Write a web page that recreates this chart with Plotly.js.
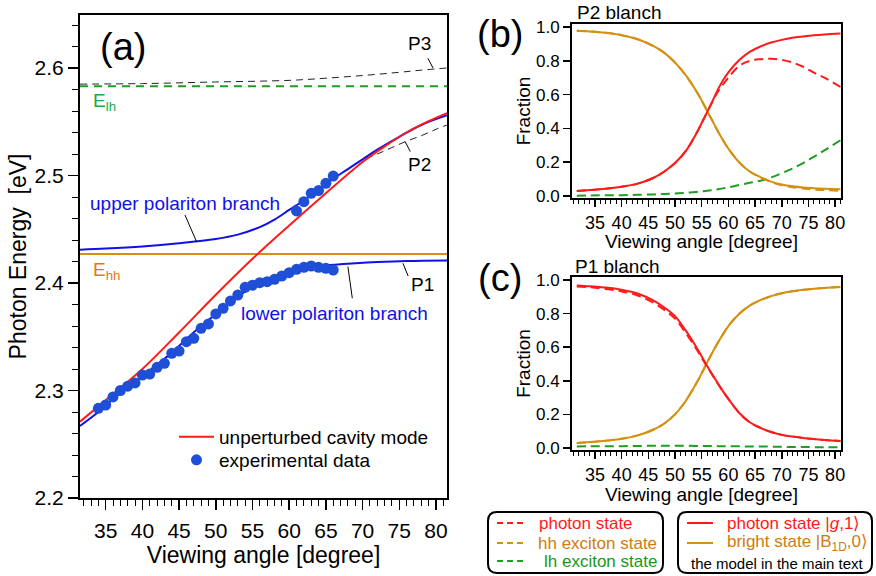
<!DOCTYPE html>
<html>
<head>
<meta charset="utf-8">
<script src="https://cdn.plot.ly/plotly-3.0.1.min.js"></script>
<style>html,body{margin:0;padding:0;background:#fff;}#chart{width:876px;height:576px;}</style>
</head>
<body>
<div id="chart"></div>
<script>
// ---------- Panel (a) data ----------
const angCavity = [31.5, 35, 40, 45, 50, 55, 60, 65, 70, 73, 76, 79, 81.5];
const cavityE   = [2.271, 2.291, 2.320, 2.354, 2.389, 2.4225, 2.4535, 2.4835, 2.5125, 2.527, 2.540, 2.5505, 2.558];

const angUpper = [31.5, 35, 40, 45, 50, 53, 56, 58, 60, 62, 64, 66, 68, 70, 72, 75, 78, 81.5];
const upperE   = [2.431, 2.432, 2.434, 2.437, 2.441, 2.445, 2.452, 2.459, 2.468, 2.477, 2.487, 2.497, 2.506, 2.515, 2.524, 2.536, 2.547, 2.556];

const angLower = [31.5, 34, 36, 38, 40, 42, 44, 46, 48, 50, 52, 54, 56, 58, 60, 62, 64, 66, 68, 72, 76, 81.5];
const lowerE   = [2.267, 2.280, 2.292, 2.303, 2.313, 2.324, 2.335, 2.348, 2.360, 2.371, 2.382, 2.392, 2.400, 2.406, 2.410, 2.414, 2.416, 2.417, 2.418, 2.4195, 2.4205, 2.421];

const angP3 = [31.5, 40, 50, 60, 65, 70, 75, 78, 81.5];
const P3E   = [2.585, 2.5855, 2.587, 2.5885, 2.5905, 2.593, 2.596, 2.598, 2.600];

const angP2 = [69, 70, 72, 74, 76, 78, 80, 81.5];
const P2E   = [2.5105, 2.5145, 2.520, 2.526, 2.532, 2.537, 2.543, 2.547];

const angRangeA = [31.5, 81.5];
const E_hh = 2.427;
const E_lh = 2.583;

const expAngLower = [34,35,36,37,38,39,40,41,42,43,44,45,46,47,48,49,50,51,52,53,54,55,56,57,58,59,60,61,62,63,64,65,66];
const expELower   = [2.2834,2.2865,2.294,2.300,2.304,2.307,2.3144,2.3153,2.3216,2.3253,2.3346,2.3367,2.3454,2.3485,2.3578,2.3619,2.3712,2.3765,2.3833,2.3888,2.396,2.398,2.4003,2.4012,2.4034,2.4065,2.4096,2.4127,2.4146,2.4158,2.4146,2.4137,2.4121];
const expAngUpper = [61, 62, 63, 64, 65, 66];
const expEUpper   = [2.467, 2.4756, 2.4834, 2.486, 2.4927, 2.4995];

// ---------- Panels (b) and (c) data ----------
const angFrac = [31.6, 34, 37, 40, 43, 46, 48, 50, 52, 54, 55, 56, 57, 58, 59, 60, 62, 64, 66, 68, 70, 72, 74, 76, 78, 81];

// (b) P2 branch
const p2Bright   = [0.978,0.974,0.966,0.952,0.928,0.887,0.847,0.790,0.715,0.620,0.565,0.505,0.445,0.385,0.330,0.280,0.200,0.145,0.112,0.085,0.068,0.057,0.050,0.046,0.043,0.040];
const p2Photon   = [0.030,0.035,0.043,0.055,0.073,0.108,0.145,0.195,0.265,0.370,0.432,0.495,0.560,0.628,0.685,0.732,0.803,0.853,0.885,0.908,0.924,0.936,0.944,0.951,0.956,0.962];
const p2PhotonFull = [0.030,0.035,0.043,0.055,0.073,0.108,0.145,0.195,0.265,0.370,0.432,0.495,0.558,0.615,0.660,0.700,0.770,0.800,0.810,0.812,0.806,0.790,0.765,0.730,0.700,0.645];
const p2HH       = [0.978,0.974,0.966,0.952,0.928,0.887,0.847,0.790,0.715,0.620,0.565,0.505,0.445,0.385,0.330,0.280,0.200,0.145,0.110,0.083,0.064,0.052,0.044,0.038,0.035,0.031];
const p2LH       = [0.002,0.003,0.004,0.005,0.007,0.009,0.012,0.015,0.018,0.024,0.027,0.031,0.035,0.040,0.045,0.051,0.065,0.078,0.090,0.110,0.135,0.162,0.195,0.232,0.270,0.330];

// (c) P1 branch
const p1Photon   = [0.968,0.963,0.955,0.942,0.920,0.877,0.836,0.785,0.700,0.600,0.545,0.490,0.437,0.386,0.337,0.292,0.210,0.153,0.120,0.095,0.078,0.068,0.060,0.053,0.048,0.042];
const p1Bright   = [0.030,0.035,0.043,0.055,0.075,0.110,0.146,0.200,0.280,0.385,0.445,0.508,0.568,0.625,0.678,0.726,0.798,0.848,0.880,0.904,0.921,0.933,0.942,0.948,0.953,0.958];
const p1PhotonFull = [0.962,0.957,0.947,0.932,0.908,0.864,0.822,0.770,0.685,0.590,0.537,0.485,0.434,0.384,0.336,0.292,0.210,0.153,0.120,0.095,0.078,0.068,0.060,0.053,0.048,0.042];
const p1HH       = [0.030,0.035,0.043,0.055,0.075,0.110,0.146,0.200,0.280,0.385,0.445,0.508,0.568,0.625,0.678,0.726,0.798,0.848,0.880,0.904,0.921,0.933,0.942,0.948,0.953,0.958];
const p1LH       = [0.009,0.010,0.011,0.011,0.012,0.013,0.013,0.013,0.013,0.012,0.012,0.012,0.012,0.011,0.011,0.011,0.010,0.009,0.009,0.008,0.007,0.006,0.006,0.005,0.005,0.004];

// ---------- styling ----------
const FONT = 'Liberation Sans, Arial, Helvetica, sans-serif';
const RED = '#ff1a1a', BLUE = '#1010e8', DOT = '#1e4fd6', ORANGE = '#d4900f', GREEN = '#1f9f1f';
const ORANGE_TXT = '#e07a10', GREEN_TXT = '#1aaa4a';
const W = 876, H = 576;
const px = x => x / W, py = y => 1 - y / H;

const traces = [];
// panel a
traces.push({x: angP3, y: P3E, mode: 'lines', line: {color: '#222', width: 1, dash: '7px,5px', shape: 'spline'}, showlegend: false, xaxis: 'x', yaxis: 'y'});
traces.push({x: angP2, y: P2E, mode: 'lines', line: {color: '#222', width: 1, dash: '7px,5px', shape: 'spline'}, showlegend: false, xaxis: 'x', yaxis: 'y'});
traces.push({x: angRangeA, y: angRangeA.map(() => E_lh), mode: 'lines', line: {color: GREEN, width: 2, dash: '8px,6px'}, showlegend: false, xaxis: 'x', yaxis: 'y'});
traces.push({x: angRangeA, y: angRangeA.map(() => E_hh), mode: 'lines', line: {color: ORANGE, width: 2}, showlegend: false, xaxis: 'x', yaxis: 'y'});
traces.push({x: angUpper, y: upperE, mode: 'lines', line: {color: BLUE, width: 2, shape: 'spline'}, showlegend: false, xaxis: 'x', yaxis: 'y'});
traces.push({x: angLower, y: lowerE, mode: 'lines', line: {color: BLUE, width: 2, shape: 'spline'}, showlegend: false, xaxis: 'x', yaxis: 'y'});
traces.push({x: angCavity, y: cavityE, mode: 'lines', name: 'unperturbed cavity mode', legend: 'legend', line: {color: RED, width: 2, shape: 'spline'}, showlegend: true, xaxis: 'x', yaxis: 'y'});
traces.push({x: expAngLower, y: expELower, mode: 'markers', name: 'experimental data', legend: 'legend2', legendgroup: 'exp', marker: {color: DOT, size: 11}, showlegend: true, xaxis: 'x', yaxis: 'y'});
traces.push({x: expAngUpper, y: expEUpper, mode: 'markers', legend: 'legend2', legendgroup: 'exp', marker: {color: DOT, size: 11}, showlegend: false, xaxis: 'x', yaxis: 'y'});

// panels b, c
const DASH = '9px,5px';
function fracTraces(ax, ay, photonFull, hh, lh, photon, bright) {
  return [
    {x: angFrac, y: lh, mode: 'lines', line: {color: GREEN, width: 2, dash: DASH, shape: 'spline'}, showlegend: false, xaxis: ax, yaxis: ay},
    {x: angFrac, y: bright, mode: 'lines', line: {color: ORANGE, width: 2, shape: 'spline'}, showlegend: false, xaxis: ax, yaxis: ay},
    {x: angFrac, y: hh, mode: 'lines', line: {color: ORANGE, width: 2, dash: DASH, shape: 'spline'}, showlegend: false, xaxis: ax, yaxis: ay},
    {x: angFrac, y: photon, mode: 'lines', line: {color: RED, width: 2, shape: 'spline'}, showlegend: false, xaxis: ax, yaxis: ay},
    {x: angFrac, y: photonFull, mode: 'lines', line: {color: RED, width: 2, dash: DASH, shape: 'spline'}, showlegend: false, xaxis: ax, yaxis: ay}
  ];
}
traces.push(...fracTraces('x2', 'y2', p2PhotonFull, p2HH, p2LH, p2Photon, p2Bright));
traces.push(...fracTraces('x3', 'y3', p1PhotonFull, p1HH, p1LH, p1Photon, p1Bright));

const axBase = {
  showline: true, linecolor: '#000', linewidth: 2, mirror: true,
  showgrid: false, zeroline: false, ticks: 'outside', tickcolor: '#000', tickwidth: 1.5,
  color: '#000'
};

function fracX(dom, anchor) {
  return Object.assign({}, axBase, {
    domain: dom, anchor: anchor, range: [30.7, 81.1], dtick: 5, ticklen: 7,
    tickfont: {family: FONT, size: 18, color: '#000'},
    minor: {dtick: 1, ticklen: 4, ticks: 'outside', tickcolor: '#000', tickwidth: 1, showgrid: false}
  });
}
function fracY(dom, anchor) {
  return Object.assign({}, axBase, {
    domain: dom, anchor: anchor, range: [-0.012, 1.018], dtick: 0.2, tick0: 0, tickformat: '.1f', ticklen: 7,
    tickfont: {family: FONT, size: 17, color: '#000'},
    title: {text: 'Fraction', font: {family: FONT, size: 19, color: '#000'}, standoff: 0}
  });
}

const legendBase = {
  xanchor: 'left', yanchor: 'top', bgcolor: 'rgba(0,0,0,0)', borderwidth: 0,
  font: {family: FONT, size: 19, color: '#000'}, itemwidth: 35, tracegroupgap: 0
};

const layout = {
  width: W, height: H,
  margin: {l: 0, r: 0, t: 0, b: 0, pad: 0},
  paper_bgcolor: '#fff', plot_bgcolor: '#fff',
  font: {family: FONT, color: '#000'},
  showlegend: true,
  legend: Object.assign({}, legendBase, {x: px(174), y: py(418)}),
  legend2: Object.assign({}, legendBase, {x: px(174), y: py(441)}),
  xaxis: Object.assign({}, axBase, {
    domain: [px(80), px(447)], anchor: 'y', range: [31.5, 81.5], dtick: 5, ticklen: 10, ticklabelstandoff: 3,
    tickfont: {family: FONT, size: 21, color: '#000'},
    minor: {dtick: 1, ticklen: 6, ticks: 'outside', tickcolor: '#000', tickwidth: 1, showgrid: false},
    title: {text: 'Viewing angle [degree]', font: {family: FONT, size: 23, color: '#000'}, standoff: 4}
  }),
  yaxis: Object.assign({}, axBase, {
    domain: [py(498), py(15)], anchor: 'x', range: [2.2, 2.6493], dtick: 0.1, tick0: 2.2, tickformat: '.1f', ticklen: 10,
    tickfont: {family: FONT, size: 21, color: '#000'},
    minor: {dtick: 0.02, ticklen: 6, ticks: 'outside', tickcolor: '#000', tickwidth: 1, showgrid: false},
    title: {text: 'Photon Energy\u00a0\u00a0[eV]', font: {family: FONT, size: 23, color: '#000'}, standoff: 2}
  }),
  xaxis2: fracX([px(572), px(841)], 'y2'),
  yaxis2: fracY([py(198), py(24)], 'x2'),
  xaxis3: fracX([px(572), px(841)], 'y3'),
  yaxis3: fracY([py(450), py(277)], 'x3'),
  annotations: [],
  shapes: []
};

const A = layout.annotations, S = layout.shapes;
function txtA(x, y, text, size, color, xanchor) {
  A.push({xref: 'x', yref: 'y', x: x, y: y, text: text, showarrow: false,
          xanchor: xanchor || 'center', yanchor: 'middle', font: {family: FONT, size: size, color: color || '#000'}});
}
function lineA(x0, y0, x1, y1) {
  S.push({type: 'line', xref: 'x', yref: 'y', x0: x0, y0: y0, x1: x1, y1: y1, line: {color: '#000', width: 1}});
}
function txtP(x, y, text, size, color, xanchor) {
  A.push({xref: 'paper', yref: 'paper', x: px(x), y: py(y), text: text, showarrow: false,
          xanchor: xanchor || 'left', yanchor: 'middle', font: {family: FONT, size: size, color: color || '#000'}});
}
function lineP(x0, y, x1, color, dash) {
  S.push({type: 'line', xref: 'paper', yref: 'paper', x0: px(x0), y0: py(y), x1: px(x1), y1: py(y),
          line: {color: color, width: 2, dash: dash || 'solid'}});
}
function roundBox(x0, y0, x1, y1, r) {
  const X = v => px(v).toFixed(5), Y = v => py(v).toFixed(5);
  const p = 'M' + X(x0 + r) + ',' + Y(y0) + ' L' + X(x1 - r) + ',' + Y(y0) +
    ' Q' + X(x1) + ',' + Y(y0) + ' ' + X(x1) + ',' + Y(y0 + r) +
    ' L' + X(x1) + ',' + Y(y1 - r) +
    ' Q' + X(x1) + ',' + Y(y1) + ' ' + X(x1 - r) + ',' + Y(y1) +
    ' L' + X(x0 + r) + ',' + Y(y1) +
    ' Q' + X(x0) + ',' + Y(y1) + ' ' + X(x0) + ',' + Y(y1 - r) +
    ' L' + X(x0) + ',' + Y(y0 + r) +
    ' Q' + X(x0) + ',' + Y(y0) + ' ' + X(x0 + r) + ',' + Y(y0) + ' Z';
  S.push({type: 'path', xref: 'paper', yref: 'paper', path: p, line: {color: '#000', width: 2}});
}

// panel (a) labels
txtA(37.3, 2.6195, '(a)', 38);
txtA(77.8, 2.623, 'P3', 19);
lineA(78.9, 2.609, 79.6, 2.600);
txtA(32.95, 2.5684, 'E<sub>lh</sub>', 19, GREEN_TXT, 'left');
txtA(77.8, 2.5098, 'P2', 19);
lineA(75.8, 2.5315, 76.5, 2.5222);
txtA(45.8, 2.4735, 'upper polariton branch', 19, BLUE);
lineA(45.8, 2.4633, 47.4, 2.4381);
txtA(32.95, 2.4112, 'E<sub>hh</sub>', 19, ORANGE_TXT, 'left');
txtA(78.1, 2.399, 'P1', 19);
lineA(75.5, 2.4183, 76.2, 2.4065);
txtA(66.2, 2.372, 'lower polariton branch', 19, BLUE);
lineA(68.0, 2.4152, 68.6, 2.3858);

// panel (b)/(c) labels and x titles
txtP(500, 34, '(b)', 38, '#000', 'center');
txtP(575, 13, 'P2 blanch', 19);
txtP(701, 242, 'Viewing angle [degree]', 19, '#000', 'center');
txtP(500, 278, '(c)', 38, '#000', 'center');
txtP(573, 266, 'P1 blanch', 19);
txtP(701, 494, 'Viewing angle [degree]', 19, '#000', 'center');

// bottom legends
roundBox(488, 512, 663, 573, 9);
roundBox(678, 512, 872, 573, 9);
lineP(497, 523, 523, RED, '6px,4px');
lineP(497, 543, 523, ORANGE, '6px,4px');
lineP(497, 561, 523, GREEN, '6px,4px');
txtP(537, 523, 'photon state', 17, RED);
txtP(536, 543, 'hh exciton state', 17, '#d07a10');
txtP(542, 561, 'lh exciton state', 17, '#169a16');
lineP(687, 523, 713, RED);
lineP(687, 543, 713, ORANGE);
txtP(725, 523, 'photon state |<i>g</i>,1\u27e9', 17, RED);
txtP(725, 543, 'bright state |B<sub>1D</sub>,0\u27e9', 17, '#d07a10');
txtP(777, 563, 'the model in the main text', 15, '#000', 'center');

Plotly.newPlot('chart', traces, layout, {displayModeBar: false, staticPlot: true});
</script>
</body>
</html>
